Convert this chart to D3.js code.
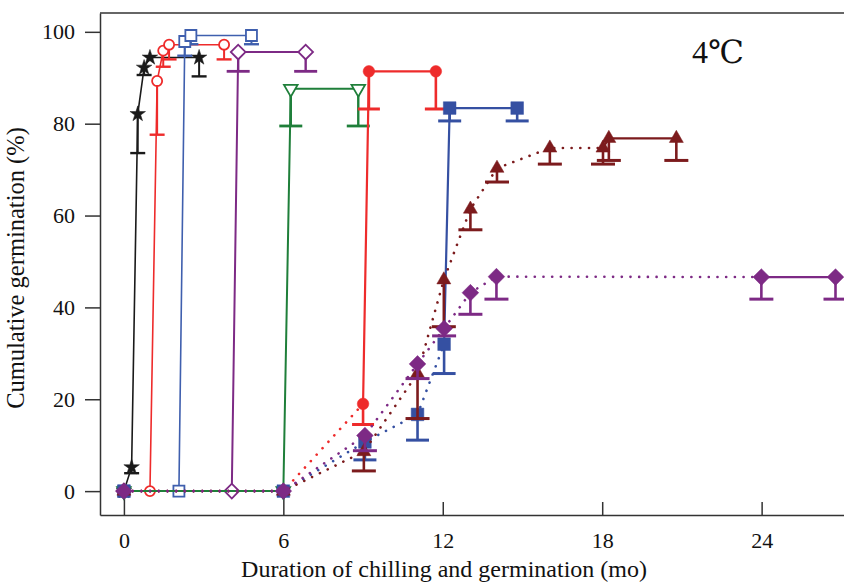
<!DOCTYPE html>
<html>
<head>
<meta charset="utf-8">
<script src="https://cdn.jsdelivr.net/npm/d3@7"></script>
<style>
  body { margin: 0; background: #fff; }
  svg text { font-family: "Liberation Serif", "DejaVu Serif", "Times New Roman", serif !important; }
</style>
</head>
<body>
<div id="chart"></div>
<script>
// values: x = months, y = % germinated, lo = lower end of error bar
var blackStarX = [0, 0.29, 0.52, 0.76, 0.98, 2.83];
var blackStarY = [0, 5.2, 82.1, 92.2, 94.4, 94.4];
var blackStarLo = [0, 3.9, 73.6, 90.6, 94.4, 90.3];

var redOpenX = [0, 0.98, 1.25, 1.48, 1.70, 3.77];
var redOpenY = [0, 0, 89.3, 95.9, 97.2, 97.2];
var redOpenLo = [0, 0, 77.6, 92.4, 94.0, 94.0];

var blueOpenX = [0, 2.07, 2.29, 2.52, 4.80];
var blueOpenY = [0, 0, 97.9, 99.2, 99.2];
var blueOpenLo = [0, 0, 94.8, 97.3, 97.3];

var purpleOpenX = [0, 4.06, 4.30, 6.84];
var purpleOpenY = [0, 0, 95.6, 95.6];
var purpleOpenLo = [0, 0, 91.4, 91.4];

var greenX = [0, 6.0, 6.28, 8.82];
var greenY = [0, 0, 87.6, 87.6];
var greenLo = [0, 0, 79.5, 79.5];

var redFillX = [0, 6.0, 9.0, 9.22, 11.74];
var redFillY = [0, 0, 19.0, 91.4, 91.4];
var redFillLo = [0, 0, 14.5, 83.2, 83.2];

var blueFillX = [0, 6.0, 9.07, 11.05, 12.05, 12.26, 14.80];
var blueFillY = [0, 0, 10.7, 16.7, 32.0, 83.4, 83.4];
var blueFillLo = [0, 0, 6.8, 11.1, 25.6, 80.6, 80.6];

var brownX = [0, 6.0, 9.03, 11.05, 12.04, 13.04, 14.04, 16.03, 18.03, 18.25, 20.79];
var brownY = [0, 0, 8.6, 25.6, 46.0, 61.4, 70.3, 74.7, 74.7, 76.8, 76.8];
var brownLo = [0, 0, 4.4, 15.8, 35.8, 56.9, 67.3, 71.2, 71.2, 72.0, 72.0];

var purpleFillX = [0, 6.0, 9.07, 11.05, 12.05, 13.04, 14.02, 23.99, 26.78];
var purpleFillY = [0, 0, 12.1, 27.7, 35.4, 43.2, 46.7, 46.6, 46.6];
var purpleFillLo = [0, 0, 8.8, 24.5, 33.8, 38.5, 41.8, 41.8, 41.8];

var xTicks = [0, 6, 12, 18, 24];
var yTicks = [0, 20, 40, 60, 80, 100];

var width = 844;
var height = 585;

function pts(xs, ys, los) {
  return xs.map(function(x, i) { return { x: x, y: ys[i], lo: los[i] }; });
}

// solidFrom: index where the connecting line turns from dotted to solid
var series = [
  { data: pts(blackStarX, blackStarY, blackStarLo), color: '#1a1a1a', symbol: d3.symbolStar, size: 75, fill: true, solidFrom: 0, cap: 15, lw: 1.6 },
  { data: pts(redOpenX, redOpenY, redOpenLo), color: '#ee2b2b', symbol: d3.symbolCircle, size: 80, fill: false, solidFrom: 0, cap: 15, lw: 1.6 },
  { data: pts(blueOpenX, blueOpenY, blueOpenLo), color: '#3f5fae', symbol: d3.symbolSquare, size: 121, fill: false, solidFrom: 0, cap: 15, lw: 1.6 },
  { data: pts(purpleOpenX, purpleOpenY, purpleOpenLo), color: '#7d2a85', symbol: 'diamond', size: 108, fill: false, solidFrom: 0, cap: 23, lw: 2 },
  { data: pts(greenX, greenY, greenLo), color: '#1f7f3a', symbol: 'down', size: 80, fill: false, solidFrom: 0, cap: 23, lw: 2 },
  { data: pts(redFillX, redFillY, redFillLo), color: '#ee2b2b', symbol: d3.symbolCircle, size: 106, fill: true, solidFrom: 2, cap: 22, lw: 2.2 },
  { data: pts(blueFillX, blueFillY, blueFillLo), color: '#3550a2', symbol: d3.symbolSquare, size: 160, fill: true, solidFrom: 4, cap: 23, lw: 2.2 },
  { data: pts(brownX, brownY, brownLo), color: '#7c1b1d', symbol: d3.symbolTriangle, size: 85, fill: true, solidFrom: 8, cap: 24, lw: 2.2 },
  { data: pts(purpleFillX, purpleFillY, purpleFillLo), color: '#7d2a85', symbol: 'diamond', size: 139, fill: true, solidFrom: 7, cap: 24, lw: 2.2 }
];

var svg = d3.select('#chart')
  .append('svg')
  .attr('width', width)
  .attr('height', height);

var x = d3.scaleLinear().domain([-0.9, 27.1]).range([100, 844]);
var y = d3.scaleLinear().domain([-5.2, 104.1]).range([515, 13]);

//axes
var yAxis = svg.append('g')
  .attr('transform', 'translate(100,0)')
  .call(d3.axisLeft(y).tickValues(yTicks).tickSize(15).tickPadding(10).tickSizeOuter(0));
var xAxis = svg.append('g')
  .attr('transform', 'translate(0,515)')
  .call(d3.axisBottom(x).tickValues(xTicks).tickSize(-13).tickPadding(17).tickSizeOuter(0));

[xAxis, yAxis].forEach(function(a) {
  a.attr('font-family', null).attr('font-size', null);
  a.selectAll('path, line').attr('stroke', '#333').attr('stroke-width', 1.5);
  a.selectAll('text').attr('font-size', 22).attr('fill', '#111');
});

// the ticks under the two zero-start points run up to them
xAxis.selectAll('.tick line')
  .attr('y2', function(d) { return (d === 0 || d === 6) ? y(0) - 515 : -13; });

// top border of the frame
svg.append('line')
  .attr('x1', 100).attr('x2', 844).attr('y1', 13).attr('y2', 13)
  .attr('stroke', '#333').attr('stroke-width', 1.5);

svg.append('text')
  .attr('x', 444).attr('y', 577)
  .attr('text-anchor', 'middle')
  .attr('font-size', 24)
  .attr('fill', '#111')
  .text('Duration of chilling and germination (mo)');

svg.append('text')
  .attr('transform', 'translate(24,268) rotate(-90)')
  .attr('text-anchor', 'middle')
  .attr('font-size', 24.5)
  .attr('fill', '#111')
  .text('Cumulative germination (%)');

svg.append('text')
  .attr('x', 718).attr('y', 63)
  .attr('text-anchor', 'middle')
  .attr('font-size', 32)
  .attr('fill', '#111')
  .text('4\u2103');

var line = d3.line()
  .x(function(d) { return x(d.x); })
  .y(function(d) { return y(d.y); });

function symbolPath(s) {
  if (s.symbol === 'diamond') return d3.symbol().type(d3.symbolSquare).size(s.size)();
  if (s.symbol === 'down') return d3.symbol().type(d3.symbolTriangle).size(s.size)();
  return d3.symbol().type(s.symbol).size(s.size)();
}
function symbolRotate(s) {
  if (s.symbol === 'diamond') return 45;
  if (s.symbol === 'down') return 180;
  return 0;
}

series.forEach(function(s) {
  var g = svg.append('g');
  var dotted = s.data.slice(0, s.solidFrom + 1);
  var solid = s.data.slice(s.solidFrom);

  if (s.solidFrom > 0) {
    g.append('path')
      .attr('d', line(dotted))
      .attr('fill', 'none')
      .attr('stroke', s.color)
      .attr('stroke-width', 2.6)
      .attr('stroke-linecap', 'round')
      .attr('stroke-dasharray', '0.1,8.6');
  }
  g.append('path')
    .attr('d', line(solid))
    .attr('fill', 'none')
    .attr('stroke', s.color)
    .attr('stroke-width', s.lw);

  //lower error bars
  var bars = s.data.filter(function(d) { return d.lo < d.y; });
  g.selectAll('.stem')
    .data(bars)
    .enter()
    .append('line')
    .attr('x1', function(d) { return x(d.x); })
    .attr('x2', function(d) { return x(d.x); })
    .attr('y1', function(d) { return y(d.y); })
    .attr('y2', function(d) { return y(d.lo); })
    .attr('stroke', s.color)
    .attr('stroke-width', s.lw + 0.4);
  g.selectAll('.cap')
    .data(bars)
    .enter()
    .append('line')
    .attr('x1', function(d) { return x(d.x) - s.cap / 2; })
    .attr('x2', function(d) { return x(d.x) + s.cap / 2; })
    .attr('y1', function(d) { return y(d.lo); })
    .attr('y2', function(d) { return y(d.lo); })
    .attr('stroke', s.color)
    .attr('stroke-width', s.lw + 0.8);

  g.selectAll('.mark')
    .data(s.data)
    .enter()
    .append('path')
    .attr('d', symbolPath(s))
    .attr('transform', function(d) {
      return 'translate(' + x(d.x) + ',' + y(d.y) + ') rotate(' + symbolRotate(s) + ')';
    })
    .attr('fill', s.fill ? s.color : '#fff')
    .attr('stroke', s.color)
    .attr('stroke-width', s.fill ? 0.5 : 1.8);
});
</script>
</body>
</html>
